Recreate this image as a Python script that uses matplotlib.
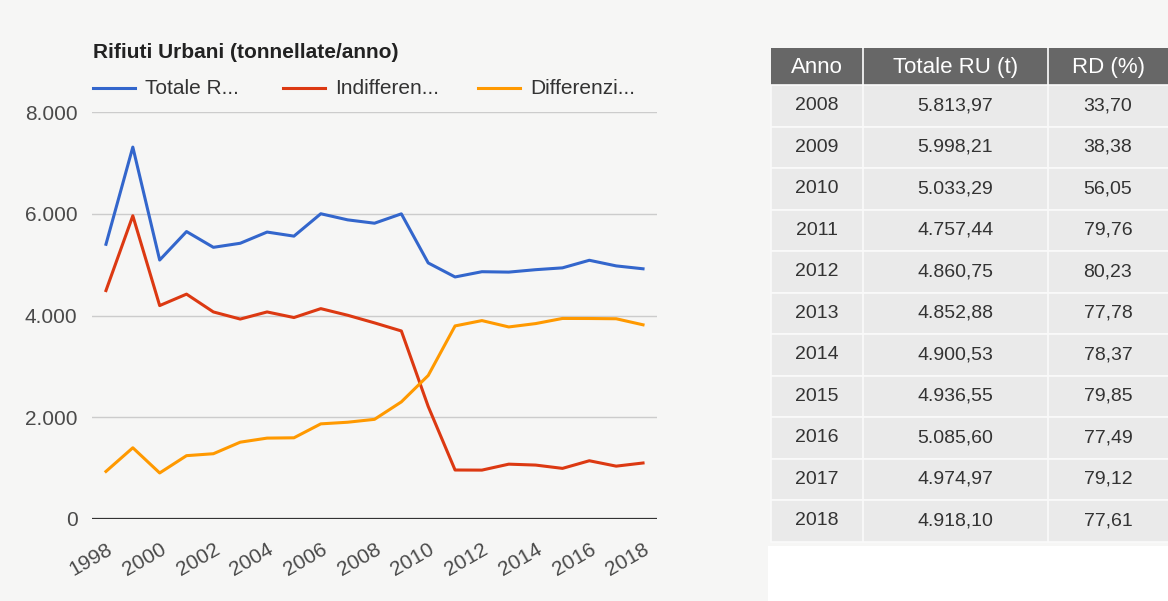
import matplotlib.pyplot as plt
import matplotlib.patches as patches

plt.rcParams['font.family'] = ['Liberation Sans', 'DejaVu Sans']

# Rifiuti urbani, serie storica
anni = list(range(1998, 2019))
totale = [5400, 7310, 5090, 5650, 5340, 5420, 5640, 5560, 6000, 5880, 5813.97,
          5998.21, 5033.29, 4757.44, 4860.75, 4852.88, 4900.53, 4936.55, 5085.60,
          4974.97, 4918.10]
indifferenziati = [4490, 5960, 4195, 4420, 4070, 3930, 4070, 3960, 4135, 4005, 3855,
                   3696, 2212, 963, 961, 1078, 1060, 995, 1145, 1039, 1101]
differenziati = [935, 1400, 905, 1245, 1283, 1510, 1590, 1596, 1870, 1902, 1959,
                 2302, 2821, 3795, 3900, 3775, 3841, 3942, 3941, 3936, 3817]
legenda = ['Totale R...', 'Indifferen...', 'Differenzi...']
colori = ['#3366cc', '#dc3912', '#ff9900']

# tabella a destra
tab_anni = list(range(2008, 2019))
tab_totale = [5813.97, 5998.21, 5033.29, 4757.44, 4860.75, 4852.88, 4900.53,
              4936.55, 5085.60, 4974.97, 4918.10]
tab_rd = [33.70, 38.38, 56.05, 79.76, 80.23, 77.78, 78.37, 79.85, 77.49, 79.12, 77.61]
intestazioni = ['Anno', 'Totale RU (t)', 'RD (%)']


def it_num(v):
    s = f'{v:,.2f}'
    return s.replace(',', '#').replace('.', ',').replace('#', '.')


W, H = 1168, 601
fig = plt.figure(figsize=(W / 100, H / 100), dpi=100)
fig.patch.set_facecolor('#f6f6f5')

# sfondo a pixel (tabella e zona bianca sotto)
tx = fig.add_axes([0, 0, 1, 1], zorder=0)
tx.set_xlim(0, W)
tx.set_ylim(H, 0)
tx.axis('off')
tx.add_patch(patches.Rectangle((768, 546), W - 768, H - 546, facecolor='white',
                               edgecolor='none'))

# --- grafico a linee ---
ax = fig.add_axes([92 / W, 1 - 519 / H, (657 - 92) / W, (519 - 112) / H], zorder=1)
ax.set_facecolor('none')
for serie, col in zip([totale, indifferenziati, differenziati], colori):
    ax.plot(anni, serie, color=col, lw=2.2, solid_joinstyle='round', zorder=3)

ax.set_xlim(1997.48, 2018.52)
ax.set_ylim(0, 8000)
ax.set_yticks([0, 2000, 4000, 6000, 8000])
ax.set_yticklabels(['0', '2.000', '4.000', '6.000', '8.000'])
ax.set_xticks(list(range(1998, 2019, 2)))
ax.set_xticklabels([str(a) for a in range(1998, 2019, 2)], rotation=30,
                   ha='right', rotation_mode='anchor')
ax.tick_params(axis='both', length=0, labelsize=15, colors='#4a4a4a')
ax.tick_params(axis='y', pad=10.5)
ax.tick_params(axis='x', pad=15)
for y in [2000, 4000, 6000, 8000]:
    ax.axhline(y, color='#cccccc', lw=1.0, zorder=1)
ax.axhline(0, color='#333333', lw=1.6, zorder=2)
for s in ax.spines.values():
    s.set_visible(False)

fig.text(93 / W, 1 - 52 / H, 'Rifiuti Urbani (tonnellate/anno)', fontsize=15,
         fontweight='bold', color='#222222', va='center', ha='left')
leg_x = [93, 283, 478]
for x0, col, lab in zip(leg_x, colori, legenda):
    fig.add_artist(plt.Line2D([x0 / W, (x0 + 42) / W], [1 - 88 / H] * 2,
                              color=col, lw=2.2))
    fig.text((x0 + 52) / W, 1 - 88 / H, lab, fontsize=15, color='#333333',
             va='center', ha='left')

# --- tabella ---
col_x = [771, 863, 1048, 1175]
centri = [817, 955.5, 1108]
top, head_h, row_h = 48, 37, 41.5
tx.add_patch(patches.Rectangle((col_x[0], top), col_x[-1] - col_x[0], head_h,
                               facecolor='#676767', edgecolor='none'))
for cx, t in zip(centri, intestazioni):
    tx.text(cx, top + head_h / 2 + 1, t, color='white', fontsize=16,
            ha='center', va='center')
for c in col_x[1:3]:
    tx.plot([c, c], [top, top + head_h], color='#ffffff', lw=1.2)

for r, (a, t, d) in enumerate(zip(tab_anni, tab_totale, tab_rd)):
    y0 = top + head_h + r * row_h
    tx.add_patch(patches.Rectangle((col_x[0], y0), col_x[-1] - col_x[0], row_h,
                                   facecolor='#eaeaea', edgecolor='#fafafa', lw=1.2))
    yc = y0 + row_h / 2
    for cx, s in zip(centri, [str(a), it_num(t), it_num(d)]):
        tx.text(cx, yc, s, fontsize=14, color='#333333', ha='center', va='center')
n = len(tab_anni)
for c in col_x[1:3]:
    tx.plot([c, c], [top + head_h, top + head_h + n * row_h], color='#fafafa', lw=1.2)

fig.savefig('out.png', dpi=100, facecolor=fig.get_facecolor())
